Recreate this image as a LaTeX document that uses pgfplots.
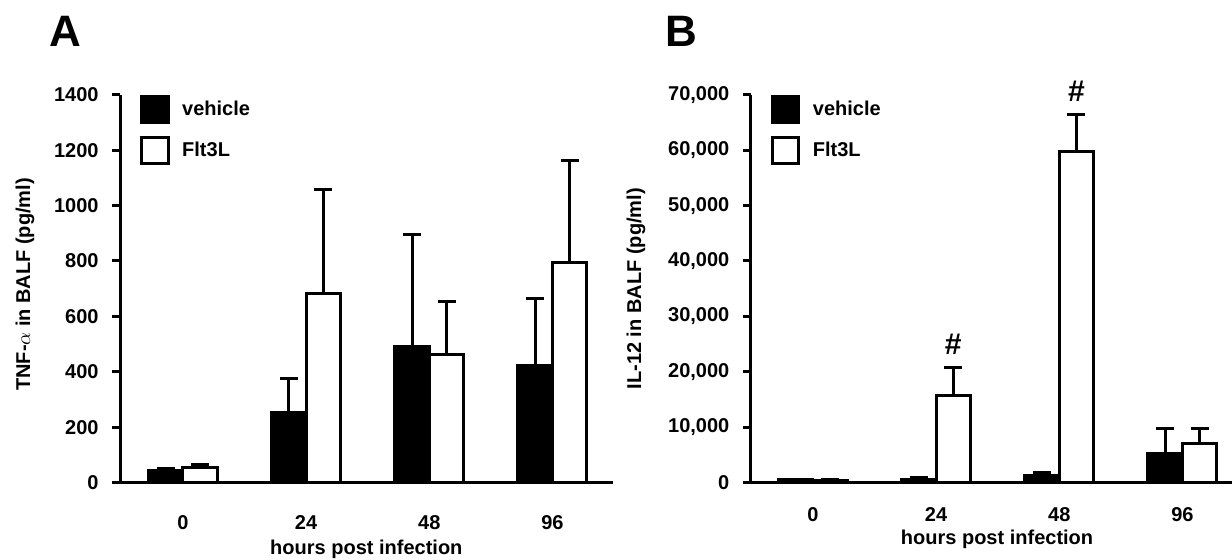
\documentclass[border=0pt]{standalone}
\usepackage{pgfplots}
\pgfplotsset{compat=1.18}
\usepackage{fontspec}
\setmainfont{Liberation Sans}
\begin{document}
\begin{tikzpicture}[font=\fontsize{10}{12}\selectfont\bfseries]
\path[use as bounding box] (0,0) rectangle (616pt,279.5pt);
\node[font=\fontsize{22}{26}\selectfont\bfseries] at (32.5pt,264pt) {A};
\node[font=\fontsize{22}{26}\selectfont\bfseries] at (340.5pt,264pt) {B};
\pgfplotsset{
  panel/.style={
    scale only axis, width=246.35pt, height=194pt,
    axis lines*=left, axis line style={line width=1.5pt, black},
    ymin=0, clip=false, scaled y ticks=false,
    xtick={0,1,2,3}, xticklabels={0,24,48,96},
    tick align=outside, major tick length=4pt,
    ytick style={line width=1.5pt, black}, xtick style={draw=none},
    yticklabel style={anchor=east, inner sep=0pt, font=\fontsize{10}{12}\selectfont\bfseries},
    label style={font=\fontsize{10}{12}\selectfont\bfseries},
    legend style={at={(axis description cs:0.041,1)}, anchor=north west, draw=none, fill=none,
      inner sep=0pt, outer sep=0pt, row sep=5.75pt, column sep=6.25pt,
      font=\fontsize{10}{12}\selectfont\bfseries, nodes={inner sep=0pt}},
    legend cell align=left,
  },
  veh/.style={ybar, bar width=0.28, bar shift=0pt, fill=black, draw=black, line width=1.5pt,
    legend image code/.code={\draw[fill=black, draw=black, line width=1.5pt] (0pt,-6.625pt) rectangle (13.25pt,6.625pt);},
    error bars/.cd, y dir=plus, y explicit, error mark=|, error bar style={line width=1.5pt, black},
    error mark options={black, line width=1.5pt, mark size=4.5pt}},
  flt/.style={ybar, bar width=0.28, bar shift=0pt, fill=white, draw=black, line width=1.5pt,
    legend image code/.code={\draw[fill=white, draw=black, line width=1.5pt] (0pt,-6.625pt) rectangle (13.25pt,6.625pt);},
    error bars/.cd, y dir=plus, y explicit, error mark=|, error bar style={line width=1.5pt, black},
    error mark options={black, line width=1.5pt, mark size=4.5pt}},
}
% Panel A
\begin{axis}[panel, at={(60pt,38.15pt)}, anchor=south west,
  xmin=-0.511, xmax=3.489, ymax=1400,
  ytick={0,200,400,600,800,1000,1200,1400},
  yticklabels={0,200,400,600,800,1000,1200,1400},
  ylabel={TNF-$\alpha$ in BALF (pg/ml)},
  ylabel style={at={(axis description cs:-0.1928,0.511)}, anchor=center},
  xlabel={hours post infection},
  xlabel style={at={(axis description cs:0.5,0)}, anchor=base, yshift=-36pt},
  xticklabel style={anchor=base, inner sep=0pt, font=\fontsize{10}{12}\selectfont\bfseries, yshift=-19.3pt},
  yticklabel style={xshift=-6.5pt},
]
\addplot[veh] table[x=x, y=y, y error=e] {
x y e
-0.14 44 9
0.86 253 124
1.86 493 402
2.86 423 240
};
\addlegendentry{vehicle}
\addplot[flt] table[x=x, y=y, y error=e] {
x y e
0.14 55 10
1.14 684 375
2.14 462 191
3.14 793 369
};
\addlegendentry{Flt3L}
\end{axis}
% Panel B
\begin{axis}[panel, at={(375.35pt,38.15pt)}, anchor=south west,
  xmin=-0.505, xmax=3.495, ymax=70000,
  ytick={0,10000,20000,30000,40000,50000,60000,70000},
  yticklabels={0,{10,000},{20,000},{30,000},{40,000},{50,000},{60,000},{70,000}},
  ylabel={IL-12 in BALF (pg/ml)},
  ylabel style={at={(axis description cs:-0.2328,0.5)}, anchor=center},
  xlabel={hours post infection},
  xlabel style={at={(axis description cs:0.5,0)}, anchor=base, yshift=-30.65pt},
  xticklabel style={anchor=base, inner sep=0pt, font=\fontsize{10}{12}\selectfont\bfseries, yshift=-15.3pt},
  yticklabel style={xshift=-6.5pt},
]
\addplot[veh] table[x=x, y=y, y error=e] {
x y e
-0.14 500 150
0.86 550 400
1.86 1210 720
2.86 5180 4640
};
\addlegendentry{vehicle}
\addplot[flt] table[x=x, y=y, y error=e] {
x y e
0.14 450 150
1.14 15650 5110
2.14 59760 6750
3.14 7110 2710
};
\addlegendentry{Flt3L}
\node[font=\fontsize{15}{18}\selectfont\bfseries] at (axis cs:1.14,25040) {\#};
\node[font=\fontsize{15}{18}\selectfont\bfseries] at (axis cs:2.14,70595) {\#};
\end{axis}
\end{tikzpicture}
\end{document}
